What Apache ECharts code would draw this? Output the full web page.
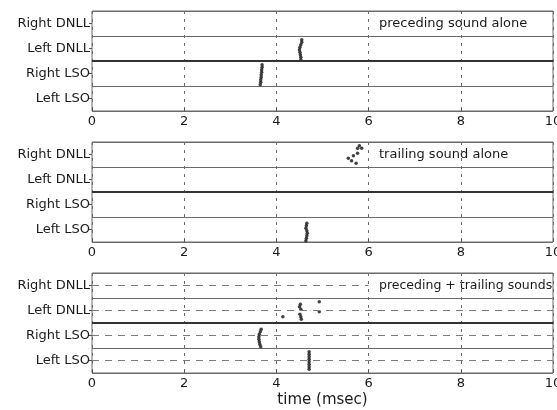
<!DOCTYPE html>
<html>
<head>
<meta charset="utf-8">
<script src="https://cdn.jsdelivr.net/npm/echarts@6/dist/echarts.min.js"></script>
<style>html,body{margin:0;padding:0;background:#fff;overflow:hidden}#c{width:557px;height:410px}</style>
</head>
<body>
<div id="c"></div>
<script>
// ---- data ----
const rowLabels = ['Left LSO', 'Right LSO', 'Left DNLL', 'Right DNLL']; // bottom -> top
const xTicks = [0, 2, 4, 6, 8, 10];
const panelTitles = ['preceding sound alone', 'trailing sound alone', 'preceding + trailing sounds'];
const xAxisTitle = 'time (msec)';
const trialsPerRow = 10;

// spikes: [time (ms), trial number] per row
// panel 1: preceding sound alone
const p1LeftDNLL = [[4.53,1],[4.53,2],[4.52,3],[4.51,4],[4.50,5],[4.51,6],[4.53,7],[4.55,8],[4.55,9]];
const p1RightLSO = [[3.65,1],[3.66,2],[3.66,3],[3.67,4],[3.67,5],[3.68,6],[3.68,7],[3.69,8],[3.69,9]];
// panel 2: trailing sound alone
const p2RightDNLL = [[5.56,4],[5.63,3],[5.67,5],[5.73,2],[5.76,6],[5.76,8],[5.80,9],[5.85,8]];
const p2LeftLSO = [[4.64,1],[4.65,2],[4.66,3],[4.67,4],[4.66,5],[4.64,6],[4.65,7],[4.66,8]];
// panel 3: preceding + trailing sounds
const p3LeftDNLL = [[4.14,3],[4.52,8],[4.50,7],[4.53,6],[4.51,4],[4.53,3],[4.54,2],[4.93,9],[4.93,5]];
const p3RightLSO = [[3.66,1],[3.64,2],[3.63,3],[3.62,4],[3.62,5],[3.63,6],[3.65,7],[3.67,8]];
const p3LeftLSO = [[4.71,2],[4.71,3],[4.71,4],[4.71,5],[4.71,6],[4.71,7],[4.71,8],[4.71,9]];

const panels = [
  { rows: { 'Left DNLL': p1LeftDNLL, 'Right LSO': p1RightLSO }, dashedRows: false },
  { rows: { 'Right DNLL': p2RightDNLL, 'Left LSO': p2LeftLSO }, dashedRows: false },
  { rows: { 'Left DNLL': p3LeftDNLL, 'Right LSO': p3RightLSO, 'Left LSO': p3LeftLSO }, dashedRows: true }
];

// ---- layout ----
const gridTops = [11, 142, 273];
const gridH = 100;
const FONT = 'DejaVu Sans';
const TXT = '#1a1a1a';

const grids = [], xAxes = [], yAxes = [], series = [], graphics = [];

panels.forEach((p, i) => {
  grids.push({ left: 92, right: 4, top: gridTops[i], height: gridH, show: true, borderColor: '#6a6a6a', borderWidth: 1,
    backgroundColor: '#fff', containLabel: false, outerBoundsMode: 'none' });
  xAxes.push({
    type: 'value', gridIndex: i, min: xTicks[0], max: xTicks[xTicks.length - 1], interval: xTicks[1] - xTicks[0],
    axisLine: { show: false },
    axisTick: { show: true, inside: true, length: 3, lineStyle: { color: '#555' } },
    axisLabel: { fontFamily: FONT, fontSize: 13, color: TXT, margin: 4, showMinLabel: true, showMaxLabel: true, hideOverlap: false },
    splitLine: { show: true, lineStyle: { color: '#6a6a6a', type: [3, 5], width: 1 } },
    name: i === 2 ? xAxisTitle : '', nameLocation: 'middle', nameGap: 20,
    nameTextStyle: { fontFamily: FONT, fontSize: 15, color: TXT }
  });
  // category axis for row labels and row separators
  yAxes.push({
    type: 'category', gridIndex: i, data: rowLabels, boundaryGap: true,
    axisLine: { show: false },
    axisTick: { show: true, alignWithLabel: true, length: 3, lineStyle: { color: '#555' } },
    axisLabel: { fontFamily: FONT, fontSize: 13, color: TXT, margin: 2 },
    splitLine: { show: true, lineStyle: { color: '#6a6a6a', width: 1 } }
  });
  // hidden value axis for spike placement
  yAxes.push({ type: 'value', gridIndex: i, min: 0, max: rowLabels.length, show: false, splitLine: { show: false } });
  const yIdx = i * 2 + 1;

  const markData = [{ yAxis: 2, lineStyle: { color: '#333', width: 2, type: 'solid' } }];
  if (p.dashedRows) {
    const dash = { color: '#7a7a7a', width: 1, type: [7, 6] };
    rowLabels.forEach((_, r) => {
      const y = r + 0.5;
      if (r === rowLabels.length - 1) {
        markData.push([{ coord: [xTicks[0], y], lineStyle: dash }, { coord: [xTicks[3], y] }]);
      } else {
        markData.push({ yAxis: y, lineStyle: dash });
      }
    });
  }
  const pts = [];
  Object.keys(p.rows).forEach(name => {
    const r = rowLabels.indexOf(name);
    p.rows[name].forEach(([t, trial]) => pts.push([t, r + (trial - 0.5) / trialsPerRow]));
  });
  series.push({
    type: 'scatter', xAxisIndex: i, yAxisIndex: yIdx, data: pts,
    symbol: 'circle', symbolSize: 3.5, itemStyle: { color: '#111' }, silent: true,
    markLine: { silent: true, symbol: 'none', label: { show: false }, data: markData, animation: false }
  });
  graphics.push({
    type: 'text', left: 379, top: gridTops[i] + 6, z: 0,
    style: { text: panelTitles[i], fontFamily: FONT, fontSize: i === 2 ? 12.5 : 13, fill: TXT }
  });
});

const chart = echarts.init(document.getElementById('c'), null, { renderer: 'canvas' });
chart.setOption({
  animation: false,
  backgroundColor: '#fff',
  grid: grids, xAxis: xAxes, yAxis: yAxes, series: series,
  graphic: graphics
});
</script>
</body>
</html>
